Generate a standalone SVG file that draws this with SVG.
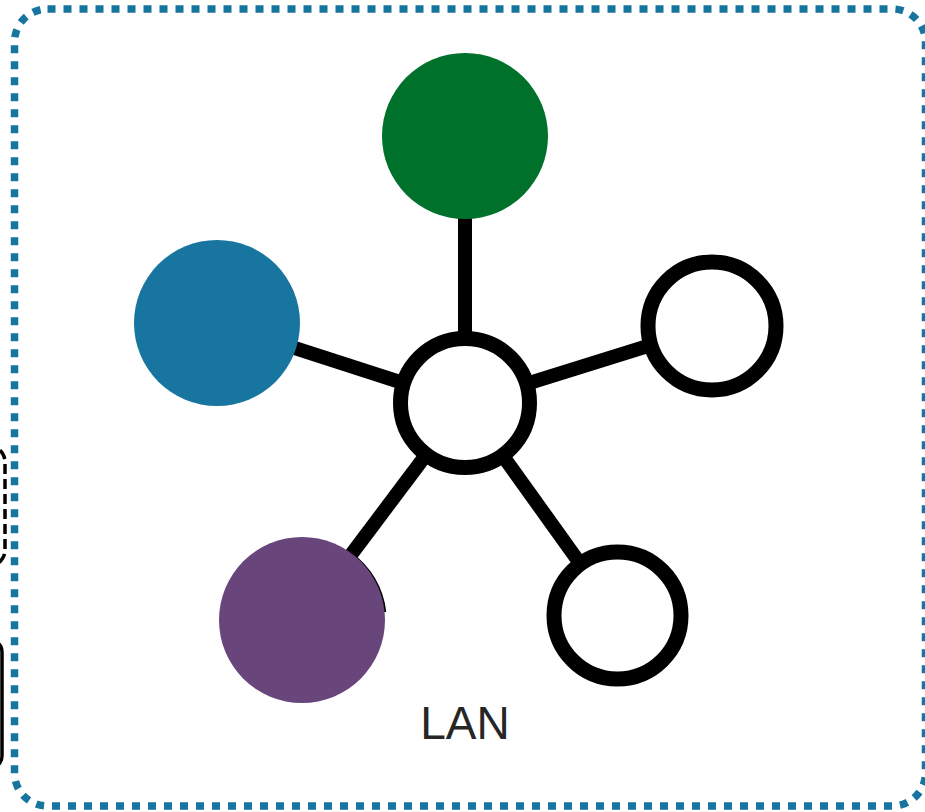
<svg xmlns="http://www.w3.org/2000/svg" width="925" height="812" viewBox="0 0 925 812">
  <style>
    .link { stroke: #000; stroke-width: 14; stroke-linecap: butt; fill: none; }
    .ring { fill: #fff; stroke: #000; stroke-width: 15; }
    .label { font-family: "Liberation Sans", Arial, sans-serif; font-size: 46px; fill: #262626; }
  </style>
  <rect width="925" height="812" fill="#fff"/>

  <!-- neighbouring groups at the left edge -->
  <g id="left-dashed">
    <rect x="-60" y="446" width="65" height="120" rx="16" fill="none" stroke="#000" stroke-width="3.5" stroke-dasharray="10 5"/>
  </g>
  <g id="left-solid">
    <rect x="-60" y="640" width="62" height="128" rx="12" fill="none" stroke="#000" stroke-width="3.5"/>
  </g>

  <!-- LAN boundary -->
  <g id="lan">
    <rect x="14.5" y="9" width="911" height="797" rx="33" fill="none" stroke="#17759f" stroke-width="7.5" stroke-dasharray="8 8"/>
    <text class="label" x="465" y="739" text-anchor="middle">LAN</text>
  </g>

  <!-- connectors -->
  <g id="links">
    <line class="link" x1="465" y1="403" x2="465" y2="136"/>
    <line class="link" x1="465" y1="403" x2="217" y2="323"/>
    <line class="link" x1="465" y1="403" x2="712" y2="326"/>
    <line class="link" x1="465" y1="403" x2="302" y2="620"/>
    <line class="link" x1="465" y1="403" x2="617" y2="615"/>
  </g>

  <!-- nodes -->
  <g id="node-green">
    <circle cx="465" cy="136" r="83" fill="#00712b"/>
  </g>
  <g id="node-blue">
    <circle cx="217" cy="323" r="83" fill="#17759f"/>
  </g>
  <g id="node-purple">
    <path d="M350 553 A83 83 0 0 1 385 612" fill="none" stroke="#000" stroke-width="2.5"/>
    <circle cx="302" cy="620" r="83" fill="#68457b"/>
  </g>
  <g id="node-hub">
    <circle class="ring" cx="465" cy="403" r="64.5"/>
  </g>
  <g id="node-right">
    <circle class="ring" cx="712" cy="326" r="64"/>
  </g>
  <g id="node-bottom-right">
    <circle class="ring" cx="617.5" cy="615.5" r="63.5"/>
  </g>
</svg>
